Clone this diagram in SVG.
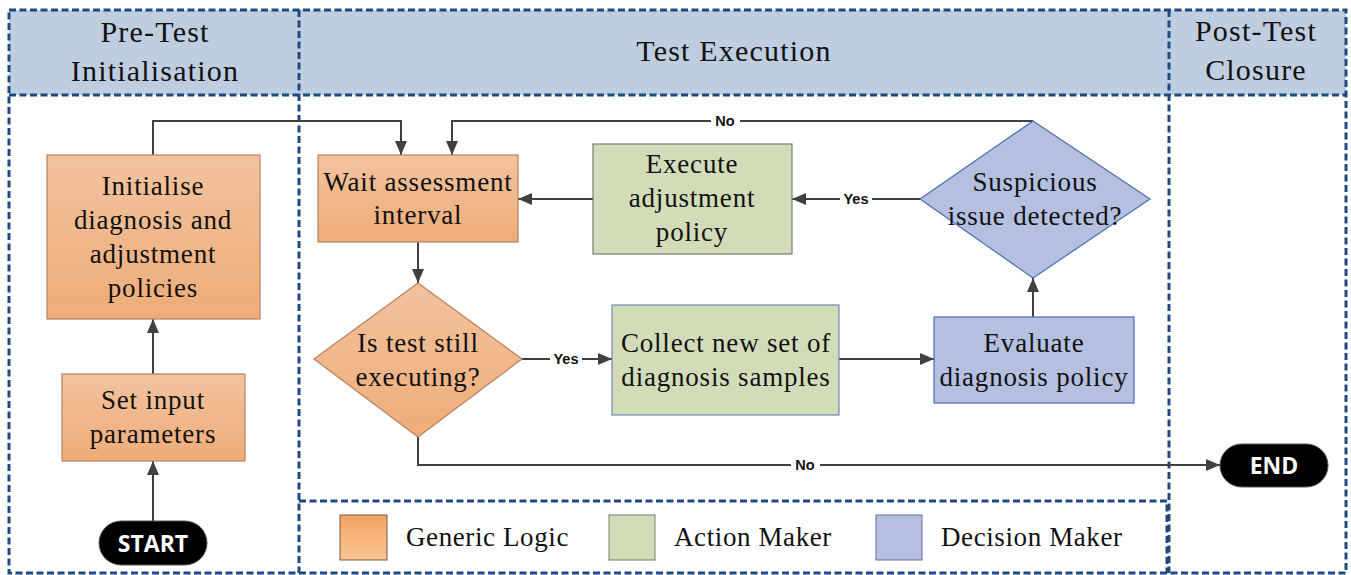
<svg xmlns="http://www.w3.org/2000/svg" width="1351" height="575" viewBox="0 0 1351 575">
<style>
.lane{fill:none;stroke:#1f4a80;stroke-width:3;stroke-dasharray:7 3.5}
.hdr{font-family:"Liberation Serif",serif;font-size:30px;letter-spacing:1.2px;fill:#111;text-anchor:middle}
.t{font-family:"Liberation Serif",serif;font-size:27px;letter-spacing:0.8px;fill:#111;text-anchor:middle}
.lt{font-family:"Liberation Serif",serif;font-size:27px;letter-spacing:0.6px;fill:#111}
.or{fill:url(#go);stroke:#b88060;stroke-width:1.2}
.gr{fill:#d3dcb8;stroke:#7a7a70;stroke-width:1.2}
.bl{fill:#b5bfe0;stroke:#4a6fb0;stroke-width:1.2}
.c{fill:none;stroke:#404040;stroke-width:2}
.lab{font-family:"Liberation Sans",sans-serif;font-size:14.5px;font-weight:bold;fill:#111;text-anchor:middle}
.term{font-family:"Open Sans","Liberation Sans",sans-serif;font-size:23px;font-weight:bold;fill:#fff;text-anchor:middle}
</style>
<defs>
<linearGradient id="go" x1="0" y1="0" x2="0" y2="1"><stop offset="0" stop-color="#f2c39f"/><stop offset="1" stop-color="#eeac78"/></linearGradient>
<linearGradient id="gl" x1="0" y1="0" x2="0" y2="1"><stop offset="0" stop-color="#f3a462"/><stop offset="1" stop-color="#f8c494"/></linearGradient>
<marker id="a" viewBox="0 0 14 12" refX="14" refY="6" markerWidth="14" markerHeight="12" markerUnits="userSpaceOnUse" orient="auto"><path d="M0,0 L14,6 L0,12 z" fill="#404040"/></marker>
</defs>
<rect width="1351" height="575" fill="#fff"/>
<g id="lanes">
<rect x="9" y="10" width="1337" height="85" fill="#bfcde0"/>
<rect class="lane" x="9" y="10" width="1337" height="563"/>
<line class="lane" x1="9" y1="95" x2="1346" y2="95"/>
<line class="lane" x1="299" y1="10" x2="299" y2="573"/>
<line class="lane" x1="1169" y1="10" x2="1169" y2="573"/>
<polyline class="lane" points="299,501 1167,501 1167,573"/>
<text class="hdr" x="155" y="42">Pre-Test</text>
<text class="hdr" x="155" y="81">Initialisation</text>
<text class="hdr" x="734" y="61">Test Execution</text>
<text class="hdr" x="1256" y="41">Post-Test</text>
<text class="hdr" x="1256" y="80">Closure</text>
</g>
<g id="connectors">
<polyline class="c" points="153,155 153,121 401,121 401,155" marker-end="url(#a)"/>
<polyline class="c" points="1033,121 452,121 452,155" marker-end="url(#a)"/>
<line class="c" x1="593" y1="199" x2="518" y2="199" marker-end="url(#a)"/>
<line class="c" x1="920" y1="199" x2="792" y2="199" marker-end="url(#a)"/>
<line class="c" x1="418" y1="242" x2="418" y2="283" marker-end="url(#a)"/>
<line class="c" x1="522" y1="359" x2="612" y2="359" marker-end="url(#a)"/>
<line class="c" x1="839" y1="359" x2="934" y2="359" marker-end="url(#a)"/>
<line class="c" x1="1033" y1="317" x2="1033" y2="278" marker-end="url(#a)"/>
<polyline class="c" points="418,437 418,465 1220,465" marker-end="url(#a)"/>
<line class="c" x1="153" y1="374" x2="153" y2="319" marker-end="url(#a)"/>
<line class="c" x1="153" y1="521" x2="153" y2="461" marker-end="url(#a)"/>
<rect x="711" y="113" width="29" height="16" fill="#fff"/><text class="lab" x="725" y="126">No</text>
<rect x="840" y="191" width="32" height="16" fill="#fff"/><text class="lab" x="856" y="204">Yes</text>
<rect x="550" y="351" width="32" height="16" fill="#fff"/><text class="lab" x="566" y="364">Yes</text>
<rect x="791" y="457" width="29" height="16" fill="#fff"/><text class="lab" x="805" y="470">No</text>
</g>
<g id="init"><rect class="or" x="47" y="155" width="213" height="164"/>
<text class="t" x="153" y="195">Initialise</text><text class="t" x="153" y="229">diagnosis and</text><text class="t" x="153" y="263">adjustment</text><text class="t" x="153" y="297">policies</text></g>
<g id="setinput"><rect class="or" x="62" y="374" width="183" height="87"/>
<text class="t" x="153" y="409">Set input</text><text class="t" x="153" y="443">parameters</text></g>
<g id="start"><rect x="99" y="521" width="108" height="44" rx="22" fill="#000" stroke="#555"/>
<text class="term" x="153" y="552">START</text></g>
<g id="wait"><rect class="or" x="318" y="155" width="200" height="87"/>
<text class="t" x="418" y="191">Wait assessment</text><text class="t" x="418" y="224">interval</text></g>
<g id="execute"><rect class="gr" x="593" y="144" width="199" height="110"/>
<text class="t" x="692" y="173">Execute</text><text class="t" x="692" y="207">adjustment</text><text class="t" x="692" y="241">policy</text></g>
<g id="suspicious"><polygon class="bl" points="1033,121 1150,199 1033,278 920,199"/>
<text class="t" x="1035" y="191">Suspicious</text><text class="t" x="1035" y="225">issue detected?</text></g>
<g id="istest"><polygon class="or" points="418,283 522,359 418,437 314,359"/>
<text class="t" x="418" y="352">Is test still</text><text class="t" x="418" y="386">executing?</text></g>
<g id="collect"><rect class="gr" x="612" y="305" width="227" height="110" style="stroke:#6e8ab8"/>
<text class="t" x="726" y="352">Collect new set of</text><text class="t" x="726" y="386">diagnosis samples</text></g>
<g id="evaluate"><rect class="bl" x="934" y="317" width="200" height="86"/>
<text class="t" x="1034" y="352">Evaluate</text><text class="t" x="1034" y="386">diagnosis policy</text></g>
<g id="end"><rect x="1220" y="444" width="108" height="43" rx="21.5" fill="#000" stroke="#555"/>
<text class="term" x="1274" y="474">END</text></g>
<g id="legend">
<rect x="340" y="515" width="47" height="45" fill="url(#gl)" stroke="#7a5a40"/>
<text class="lt" x="406" y="546">Generic Logic</text>
<rect x="609" y="515" width="46" height="45" fill="#d3dcb8" stroke="#7a7a70"/>
<text class="lt" x="674" y="546">Action Maker</text>
<rect x="876" y="515" width="46" height="45" fill="#b5bfe0" stroke="#6070a0"/>
<text class="lt" x="941" y="546">Decision Maker</text>
</g>
</svg>
